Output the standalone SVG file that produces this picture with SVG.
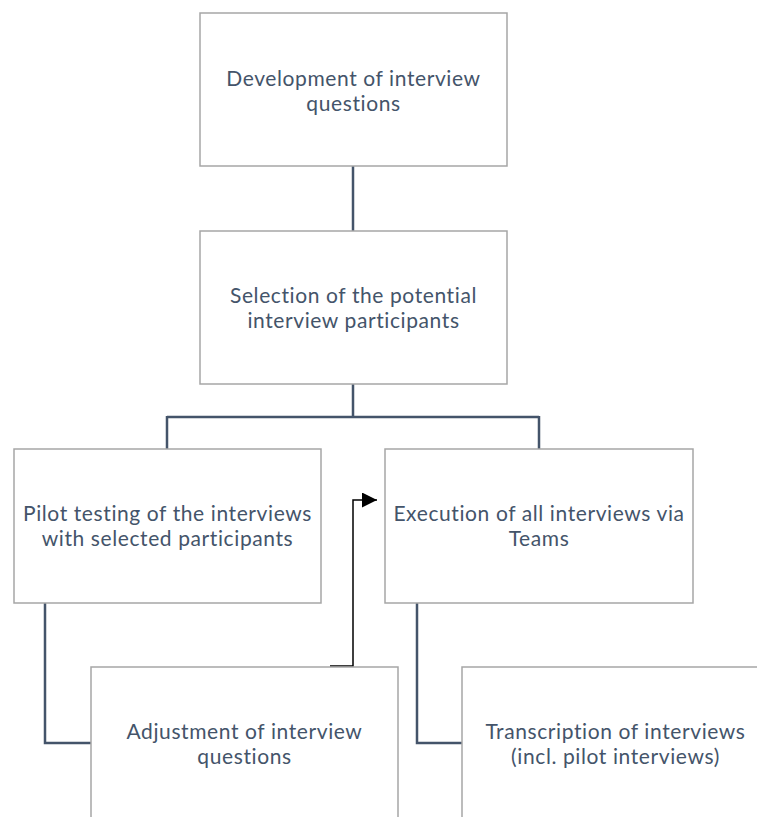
<svg xmlns="http://www.w3.org/2000/svg" width="757" height="817" viewBox="0 0 757 817">
  <defs>
    <style>
      .box { fill: #ffffff; stroke: #a6a6a6; stroke-width: 1.5; }
      .lbl { font-family: Lato, "Liberation Sans", sans-serif; font-size: 21px; letter-spacing: 0.6px; fill: #44546a; text-anchor: middle; }
      .link { fill: none; stroke: #44546a; stroke-width: 2.5; }
      .flow { fill: none; stroke: #000000; stroke-width: 1.5; }
    </style>
    <marker id="arrow" viewBox="0 0 10 10" refX="10" refY="5" markerWidth="16" markerHeight="15" markerUnits="userSpaceOnUse" orient="auto">
      <path d="M0,0 L10,5 L0,10 Z" fill="#000000"/>
    </marker>
  </defs>
  <rect width="757" height="817" fill="#ffffff"/>

  <!-- connectors -->
  <g id="connectors">
    <path class="link" d="M353,166 V231"/>
    <path class="link" d="M353,384 V417 M167,417 H539 M167,416 V449 M539,416 V449"/>
    <path class="link" d="M45,603 V743 H91"/>
    <path class="link" d="M417,603 V743 H462"/>
    <path class="flow" d="M330,666 H353 V500 H377" marker-end="url(#arrow)"/>
  </g>

  <g id="node-development">
    <rect class="box" x="200" y="13" width="307" height="153"/>
    <text class="lbl" x="353.5" y="86">Development of interview</text>
    <text class="lbl" x="353.5" y="111">questions</text>
  </g>

  <g id="node-selection">
    <rect class="box" x="200" y="231" width="307" height="153"/>
    <text class="lbl" x="353.5" y="303">Selection of the potential</text>
    <text class="lbl" x="353.5" y="328">interview participants</text>
  </g>

  <g id="node-pilot">
    <rect class="box" x="14" y="449" width="307" height="154"/>
    <text class="lbl" x="167.5" y="521">Pilot testing of the interviews</text>
    <text class="lbl" x="167.5" y="546">with selected participants</text>
  </g>

  <g id="node-execution">
    <rect class="box" x="385" y="449" width="308" height="154"/>
    <text class="lbl" x="539" y="521">Execution of all interviews via</text>
    <text class="lbl" x="539" y="546">Teams</text>
  </g>

  <g id="node-adjustment">
    <rect class="box" x="91" y="667" width="307" height="153"/>
    <text class="lbl" x="244.5" y="739">Adjustment of interview</text>
    <text class="lbl" x="244.5" y="764">questions</text>
  </g>

  <g id="node-transcription">
    <rect class="box" x="462" y="667" width="307" height="153"/>
    <text class="lbl" x="615.5" y="739">Transcription of interviews</text>
    <text class="lbl" x="615.5" y="764">(incl. pilot interviews)</text>
  </g>
</svg>
